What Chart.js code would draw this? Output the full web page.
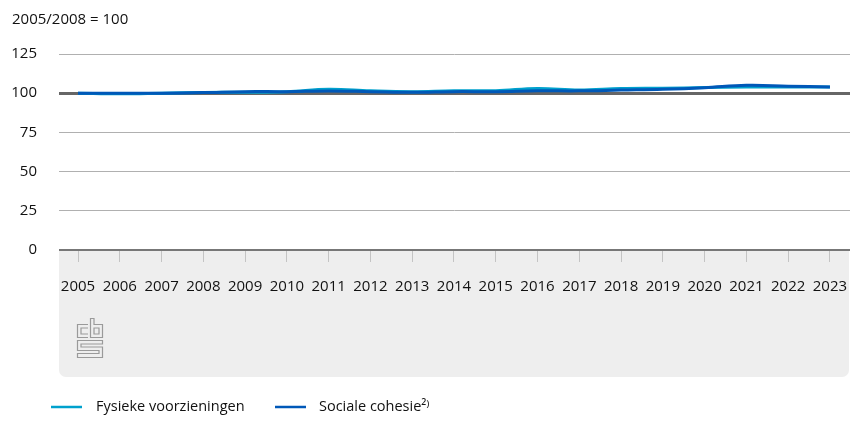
<!DOCTYPE html>
<html>
<head>
<meta charset="utf-8">
<script src="https://cdn.jsdelivr.net/npm/chart.js@4.4.1/dist/chart.umd.min.js"></script>
<style>
  html, body { margin: 0; padding: 0; background: #fff; }
  #wrap { width: 850px; height: 429px; position: relative; }
</style>
</head>
<body>
<div id="wrap"><canvas id="chart"></canvas></div>
<script>
// index 2005/2008 = 100
const years = [2005, 2006, 2007, 2008, 2009, 2010, 2011, 2012, 2013, 2014,
  2015, 2016, 2017, 2018, 2019, 2020, 2021, 2022, 2023];
const fysiek = [100, 99.6, 100, 100.5, 100.6, 101, 102.5, 101.5, 101, 101.6,
  101.6, 103, 102, 103, 103.2, 103.6, 104, 104, 104];
const sociaal = [100, 100, 100, 100.4, 101, 101, 101.4, 101, 100.6, 101,
  101, 101.5, 101.5, 102, 102.5, 103.5, 105, 104.5, 104];
const yTicks = [0, 25, 50, 75, 100, 125];
const unitLabel = "2005/2008 = 100";
const seriesNames = ["Fysieke voorzieningen", "Sociale cohesie\u00b2\u207e"];
const seriesColors = ["#00a1cd", "#0058b8"];

const FONT = "'Open Sans', 'DejaVu Sans', sans-serif";
const TEXT = "#111111";

function toPoints(vals) {
  return years.map((y, i) => ({ x: y, y: vals[i] }));
}

// grey panel under the x axis, cbs logo, unit label and legend
const decor = {
  id: "decor",
  beforeDraw(chart) {
    const ctx = chart.ctx;
    const x = chart.scales.x;
    ctx.save();
    ctx.fillStyle = "#eeeeee";
    ctx.beginPath();
    ctx.roundRect(x.left, x.top, 790, x.height, [0, 0, 7, 7]);
    ctx.fill();

    // logo
    ctx.strokeStyle = "#9a9a9a";
    ctx.lineWidth = 1.2;
    ctx.beginPath();
    // c
    ctx.moveTo(88, 324.5); ctx.lineTo(77.5, 324.5); ctx.lineTo(77.5, 337.5); ctx.lineTo(88, 337.5);
    ctx.moveTo(88, 328); ctx.lineTo(81, 328); ctx.lineTo(81, 334); ctx.lineTo(88, 334);
    // b
    ctx.moveTo(90.5, 318.5); ctx.lineTo(90.5, 337.5); ctx.lineTo(102.5, 337.5); ctx.lineTo(102.5, 324.5); ctx.lineTo(94, 324.5); ctx.lineTo(94, 318.5); ctx.closePath();
    ctx.rect(94, 328, 5, 6);
    // s
    ctx.moveTo(102.5, 340.5); ctx.lineTo(77.5, 340.5); ctx.lineTo(77.5, 350.5); ctx.lineTo(99, 350.5); ctx.lineTo(99, 353.5); ctx.lineTo(77.5, 353.5); ctx.lineTo(77.5, 357.5);
    ctx.lineTo(102.5, 357.5); ctx.lineTo(102.5, 347); ctx.lineTo(81, 347); ctx.lineTo(81, 344); ctx.lineTo(102.5, 344); ctx.closePath();
    ctx.stroke();
    ctx.restore();
  },
  afterDraw(chart) {
    const ctx = chart.ctx;
    ctx.save();
    ctx.fillStyle = TEXT;
    ctx.textBaseline = "middle";
    ctx.font = "15px " + FONT;
    ctx.fillText(unitLabel, 12, 20);

    ctx.font = "14.5px " + FONT;
    const items = [{ x: 51, tx: 96 }, { x: 275, tx: 319 }];
    chart.data.datasets.forEach((ds, i) => {
      const it = items[i];
      ctx.strokeStyle = ds.borderColor;
      ctx.lineWidth = 2.5;
      ctx.beginPath();
      ctx.moveTo(it.x, 407);
      ctx.lineTo(it.x + 31, 407);
      ctx.stroke();
      ctx.fillStyle = TEXT;
      ctx.fillText(ds.label, it.tx, 407);
    });
    ctx.restore();
  }
};

new Chart(document.getElementById("chart"), {
  type: "line",
  data: {
    datasets: [
      {
        label: seriesNames[0],
        data: toPoints(fysiek),
        borderColor: seriesColors[0],
        borderWidth: 3,
        pointRadius: 0,
        tension: 0.4,
        order: 2
      },
      {
        label: seriesNames[1],
        data: toPoints(sociaal),
        borderColor: seriesColors[1],
        borderWidth: 3,
        pointRadius: 0,
        tension: 0.4,
        order: 1
      }
    ]
  },
  options: {
    responsive: true,
    maintainAspectRatio: false,
    animation: false,
    layout: { padding: { top: 54, left: 12, right: 0, bottom: 52 } },
    plugins: {
      legend: { display: false },
      tooltip: { enabled: false }
    },
    scales: {
      x: {
        type: "linear",
        min: 2004.545,
        max: 2023.48,
        afterFit(scale) {
          scale.height = 127;
          scale.paddingLeft = 0;
          scale.paddingRight = 0;
        },
        border: { display: false },
        grid: {
          drawOnChartArea: false,
          drawTicks: true,
          tickLength: 12,
          color: "#c4c4c4",
          lineWidth: 1
        },
        ticks: {
          stepSize: 1,
          includeBounds: false,
          autoSkip: false,
          maxRotation: 0,
          padding: 16,
          color: TEXT,
          font: { family: FONT, size: 15 },
          callback: (v) => String(v)
        }
      },
      y: {
        min: 0,
        max: 125,
        afterFit(scale) { scale.width = 47; },
        afterBuildTicks(scale) { scale.ticks = yTicks.map(v => ({ value: v })); },
        border: { display: false },
        grid: {
          drawTicks: false,
          color: (c) => c.tick.value === 100 ? "#666666" : (c.tick.value === 0 ? "#777777" : "#b0b0b0"),
          lineWidth: (c) => c.tick.value === 100 ? 3 : (c.tick.value === 0 ? 2 : 1)
        },
        ticks: {
          padding: 22,
          color: TEXT,
          font: { family: FONT, size: 15 }
        }
      }
    }
  },
  plugins: [decor]
});
</script>
</body>
</html>
